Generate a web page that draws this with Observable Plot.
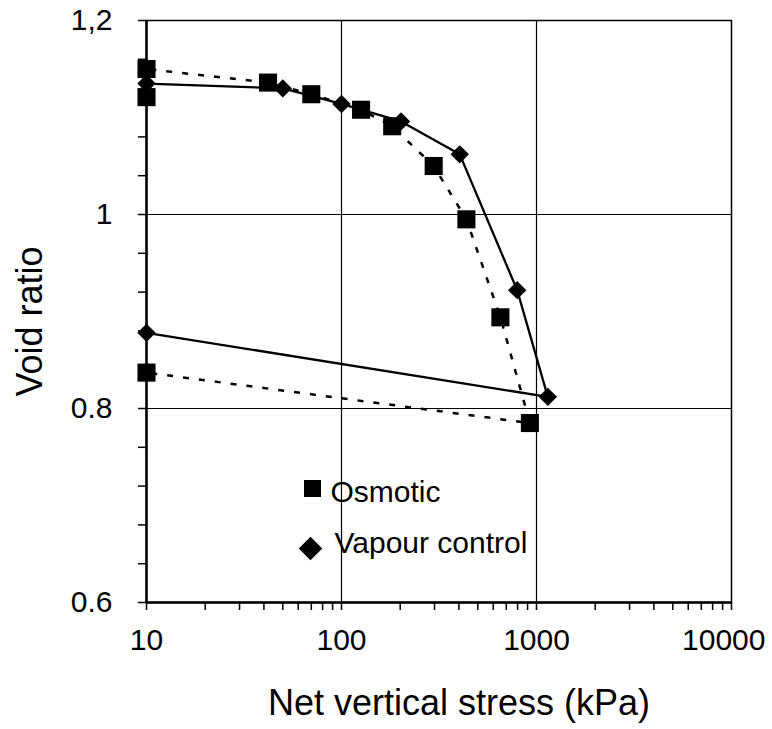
<!DOCTYPE html>
<html>
<head>
<meta charset="utf-8">
<script src="https://cdn.jsdelivr.net/npm/d3@7"></script>
<script src="https://cdn.jsdelivr.net/npm/@observablehq/plot@0.6"></script>
<style>
  html, body { margin: 0; padding: 0; background: #fff; }
  #chart { width: 772px; height: 729px; }
</style>
</head>
<body>
<div id="chart"></div>
<script>
// ---- data ----
const osmoticStress = [10, 10, 42, 70, 126, 182, 297, 437, 653, 925, 10];
const osmoticVoid   = [1.121, 1.150, 1.136, 1.124, 1.108, 1.091, 1.050, 0.995, 0.894, 0.785, 0.837];

const vapourStress = [10, 50, 100, 202, 404, 796, 1143, 10];
const vapourVoid   = [1.135, 1.130, 1.114, 1.096, 1.062, 0.922, 0.812, 0.878];

const seriesNames = ["Osmotic", "Vapour control"];

const xTicks = [10, 100, 1000, 10000];
const xTickLabels = ["10", "100", "1000", "10000"];
const xMinorTicks = [20,30,40,50,60,70,80,90,200,300,400,500,600,700,800,900,2000,3000,4000,5000,6000,7000,8000,9000];
const xGrid = [100, 1000];

const yTicks = [0.6, 0.8, 1.0, 1.2];
const yTickLabels = ["0.6", "0.8", "1", "1,2"];
const yMinorTicks = [0.64, 0.68, 0.72, 0.76, 0.84, 0.88, 0.92, 0.96, 1.04, 1.08, 1.12, 1.16];
const yGrid = [0.8, 1.0];

const xLabel = "Net vertical stress (kPa)";
const yLabel = "Void ratio";

// ---- tables ----
const osmotic = osmoticStress.map((s, i) => ({stress: s, e: osmoticVoid[i]}));
const vapour = vapourStress.map((s, i) => ({stress: s, e: vapourVoid[i]}));
const xLabelMap = new Map(xTicks.map((t, i) => [t, xTickLabels[i]]));
const yLabelMap = new Map(yTicks.map((t, i) => [t, yTickLabels[i]]));

const font = "Arial, 'Liberation Sans', Helvetica, sans-serif";

const chart = Plot.plot({
  width: 772,
  height: 729,
  marginLeft: 146,
  marginRight: 41,
  marginTop: 20,
  marginBottom: 127,
  style: {fontFamily: font, fontSize: "30px", color: "black", background: "white", overflow: "visible"},
  x: {type: "log", domain: [xTicks[0], xTicks[xTicks.length - 1]]},
  y: {domain: [yTicks[0], yTicks[yTicks.length - 1]]},
  marks: [
    Plot.gridX(xGrid, {stroke: "black", strokeOpacity: 1, strokeWidth: 1.2}),
    Plot.gridY(yGrid, {stroke: "black", strokeOpacity: 1, strokeWidth: 1.2}),
    Plot.frame({stroke: "black", strokeWidth: 1.5}),
    Plot.ruleX([xTicks[0]], {stroke: "black", strokeWidth: 2.5}),
    Plot.ruleY([yTicks[0]], {stroke: "black", strokeWidth: 2.5}),
    // minor ticks
    Plot.axisY(yMinorTicks, {tickSize: 8, strokeWidth: 1.5, tickFormat: () => "", label: null}),
    Plot.axisX(xMinorTicks, {tickSize: 8, strokeWidth: 1.5, tickFormat: () => "", label: null}),
    // major ticks
    Plot.axisY(yTicks, {tickSize: 8, tickPadding: 26, strokeWidth: 1.5, fontSize: 30,
      tickFormat: d => yLabelMap.get(d), label: null}),
    Plot.axisX(xTicks, {tickSize: 8, strokeWidth: 1.5, tickFormat: () => "", label: null}),
    Plot.axisX(xTicks.slice(0, -1), {tickSize: 0, tickPadding: 26, fontSize: 30,
      tickFormat: d => xLabelMap.get(d), label: null}),
    Plot.axisX(xTicks.slice(-1), {tickSize: 0, tickPadding: 26, fontSize: 30,
      textAnchor: "end", dx: 34, tickFormat: d => xLabelMap.get(d), label: null}),
    // series
    Plot.line(osmotic, {x: "stress", y: "e", stroke: "black", strokeWidth: 2.5,
      strokeDasharray: "6,10", strokeLinecap: "butt"}),
    Plot.line(vapour, {x: "stress", y: "e", stroke: "black", strokeWidth: 2.3}),
    Plot.dot(osmotic, {x: "stress", y: "e", symbol: "square", r: 10.2, fill: "black", stroke: "none"}),
    Plot.dot(vapour, {x: "stress", y: "e", symbol: "diamond2", r: 8.3, fill: "black", stroke: "none"}),
    // legend
    Plot.dot([seriesNames[0]], {frameAnchor: "top-left", dx: 166, dy: 468, symbol: "square", r: 9.6, fill: "black", stroke: "none"}),
    Plot.text([seriesNames[0]], {frameAnchor: "top-left", dx: 184, dy: 472, text: d => d,
      textAnchor: "start", lineAnchor: "middle", fontSize: 30, fill: "black"}),
    Plot.dot([seriesNames[1]], {frameAnchor: "top-left", dx: 164, dy: 528, symbol: "diamond2", r: 10.6, fill: "black", stroke: "none"}),
    Plot.text([seriesNames[1]], {frameAnchor: "top-left", dx: 188, dy: 523, text: d => d,
      textAnchor: "start", lineAnchor: "middle", fontSize: 30, fill: "black"}),
    // axis titles
    Plot.text([xLabel], {frameAnchor: "bottom", dx: 20, dy: 101, text: d => d,
      textAnchor: "middle", lineAnchor: "middle", fontSize: 36, fill: "black"}),
    Plot.text([yLabel], {frameAnchor: "left", dx: -116, dy: 10, rotate: -90, text: d => d,
      textAnchor: "middle", lineAnchor: "middle", fontSize: 36, fill: "black"})
  ]
});
document.getElementById("chart").appendChild(chart);
</script>
</body>
</html>
